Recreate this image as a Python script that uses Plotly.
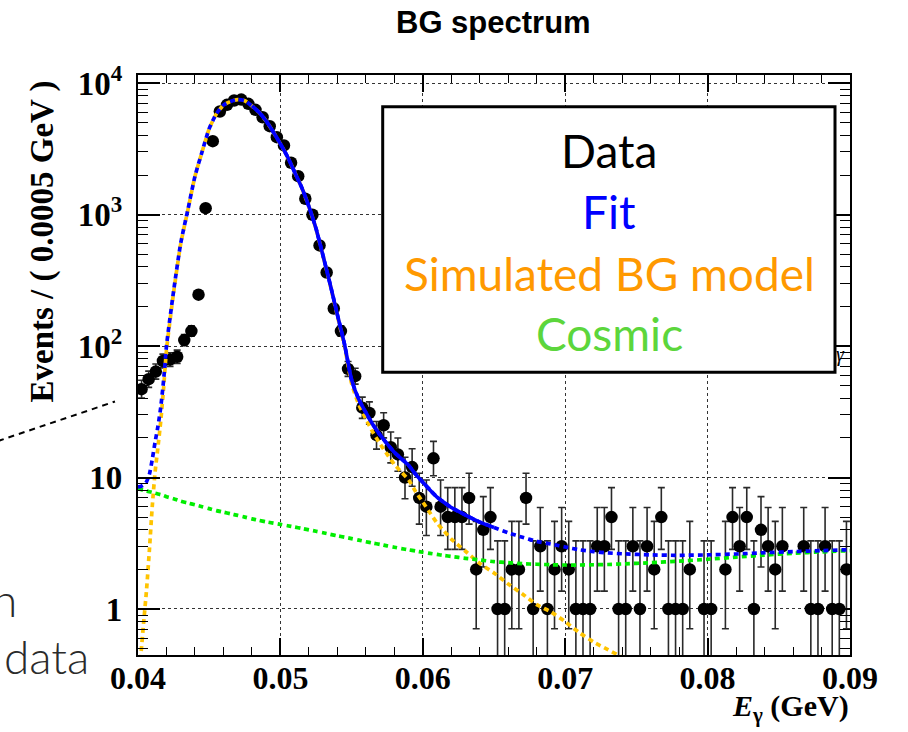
import math
import numpy as np
import plotly.graph_objects as go

# ---------------- data ----------------
# Histogram binning (GeV)
BIN_LO, BIN_HI, N_BINS = 0.04, 0.09, 100

# Events per 0.0005 GeV bin
counts = [
    47, 56, 64, 77, 79, 83, 111, 130, 246, 1120,
    3620, 6090, 6840, 7380, 7500, 6960, 6270, 5500, 4710, 3880,
    3360, 2480, 1960, 1320, 998, 583, 363, 193, 130, 67,
    59, 34, 31, 21, 25, 17, 15, 10, 12, 7,
    6, 14, 6, 5, 5, 5, 7, 2, 4, 5,
    1, 1, 2, 2, 7, 1, 3, 1, 2, 3,
    2, 1, 1, 1, 3, 3, 5, 1, 1, 3,
    1, 3, 2, 5, 1, 1, 1, 2, 0, 1,
    1, 0, 2, 5, 3, 5, 1, 4, 3, 2,
    3, 0, 0, 3, 1, 1, 3, 1, 1, 2,
]

# Model curves sampled in E_gamma (GeV)
curve_x = [
    0.0400, 0.0402, 0.0404, 0.0406, 0.0408, 0.0410, 0.0412, 0.0414, 0.0416, 0.0418,
    0.0420, 0.0425, 0.0430, 0.0435, 0.0440, 0.0445, 0.0450, 0.0455, 0.0460, 0.0465,
    0.0470, 0.0475, 0.0480, 0.0485, 0.0490, 0.0495, 0.0500, 0.0505, 0.0510, 0.0515,
    0.0520, 0.0525, 0.0530, 0.0535, 0.0540, 0.0545, 0.0550, 0.0555, 0.0560, 0.0565,
    0.0570, 0.0575, 0.0580, 0.0585, 0.0590, 0.0595, 0.0600, 0.0605, 0.0610, 0.0615,
    0.0620, 0.0630, 0.0640, 0.0650, 0.0660, 0.0670, 0.0680, 0.0690, 0.0700, 0.0710,
    0.0720, 0.0730, 0.0740, 0.0760, 0.0780, 0.0800, 0.0820, 0.0840, 0.0860, 0.0880,
    0.0900,
]

# Simulated background model
bg_model = [
    0.30, 0.45, 0.80, 1.4, 2.8, 6.0, 11.0, 17.0, 27.0, 48.0,
    93.0, 255.0, 600.0, 1080.0, 1950.0, 3000.0, 4500.0, 5830.0, 6800.0, 7250.0,
    7500.0, 7350.0, 6700.0, 6000.0, 5150.0, 4250.0, 3450.0, 2750.0, 2100.0, 1600.0,
    1150.0, 780.0, 480.0, 290.0, 170.0, 100.0, 52.0, 36.0, 28.0, 22.0,
    18.0, 15.0, 12.6, 11.0, 9.6, 7.8, 6.5, 5.4, 4.5, 3.9,
    3.4, 2.75, 2.22, 1.88, 1.55, 1.30, 1.08, 0.95, 0.80, 0.66,
    0.56, 0.49, 0.43, 0.33, 0.25, 0.19, 0.14, 0.11, 0.08, 0.06,
    0.045,
]

# Cosmic component
cosmic = [
    8.2, 8.1, 8.0, 7.9, 7.8, 7.7, 7.6, 7.5, 7.4, 7.3,
    7.15, 6.9, 6.6, 6.4, 6.2, 6.0, 5.8, 5.6, 5.45, 5.3,
    5.15, 5.0, 4.85, 4.72, 4.6, 4.5, 4.4, 4.3, 4.2, 4.1,
    4.0, 3.9, 3.8, 3.7, 3.6, 3.52, 3.43, 3.34, 3.25, 3.17,
    3.1, 3.02, 2.95, 2.88, 2.82, 2.76, 2.7, 2.65, 2.6, 2.55,
    2.51, 2.43, 2.36, 2.29, 2.25, 2.21, 2.19, 2.17, 2.16, 2.16,
    2.17, 2.18, 2.2, 2.25, 2.31, 2.39, 2.48, 2.57, 2.65, 2.72,
    2.78,
]

# Range used for the fit (drawn solid)
FIT_RANGE = (0.048, 0.065)

# Axis ticks
x_tickvals = [0.04, 0.05, 0.06, 0.07, 0.08, 0.09]
x_ticktext = ["0.04", "0.05", "0.06", "0.07", "0.08", "0.09"]
y_tickvals = [1, 10, 100, 1000, 10000]
y_ticktext = ["1", "10", "10<sup>2</sup>", "10<sup>3</sup>", "10<sup>4</sup>"]

legend_labels = ["Data", "Fit", "Simulated BG model", "Cosmic"]

# ---------------- derived quantities ----------------
counts_arr = np.array(counts, dtype=float)
bin_w = (BIN_HI - BIN_LO) / N_BINS
bin_centers = BIN_LO + (np.arange(N_BINS) + 0.5) * bin_w

N_MAX = int(max(counts)) + 2
LOG_FACT = np.concatenate([[0.0], np.cumsum(np.log(np.arange(1, N_MAX + 1)))])


def poisson_cdf(k, mu):
    i = np.arange(k + 1)
    logt = -mu + i * math.log(mu) - LOG_FACT[: k + 1]
    m = logt.max()
    return math.exp(m) * np.exp(logt - m).sum()


def solve_mu(k, target, lo, hi):
    # cdf(k; mu) decreases with mu
    for _ in range(80):
        mid = 0.5 * (lo + hi)
        if poisson_cdf(k, mid) > target:
            lo = mid
        else:
            hi = mid
    return 0.5 * (lo + hi)


def poisson_interval(n, cl=0.6827):
    if n == 0:
        return 0.0, -math.log(1.0 - cl)
    a = 0.5 * (1.0 - cl)
    span = 10.0 * math.sqrt(n) + 10.0
    lo = solve_mu(n - 1, 1.0 - a, max(1e-9, n - span), n)
    hi = solve_mu(n, a, n, n + span)
    return lo, hi


err_lo, err_hi = [], []
for n in counts:
    lo, hi = poisson_interval(int(n))
    err_lo.append(n - lo)
    err_hi.append(hi - n)

cx = np.array(curve_x)
bg = np.array(bg_model)
cos = np.array(cosmic)
fit = bg + cos
in_fit = (cx >= FIT_RANGE[0] - 1e-9) & (cx <= FIT_RANGE[1] + 1e-9)

# ---------------- figure ----------------
W, H = 908, 732
ML, MR, MT, MB = 138, 58, 75, 77
PW, PH = W - ML - MR, H - MT - MB


def px(xp):
    return (xp - ML) / PW


def py(yp):
    return (H - MB - yp) / PH


SERIF = "Liberation Serif, Times New Roman, serif"
SANS = "Liberation Sans, Arial, sans-serif"
LATO = "Lato, sans-serif"

fig = go.Figure()

# data points with Poisson error bars
fig.add_trace(go.Scatter(
    x=bin_centers, y=counts_arr, mode="markers",
    marker=dict(color="black", size=12.5),
    error_y=dict(type="data", symmetric=False, array=err_hi, arrayminus=err_lo,
                 color="#2a2a2a", thickness=1.6, width=3.5),
    showlegend=False, cliponaxis=True,
))

# background model
fig.add_trace(go.Scatter(
    x=cx, y=bg, mode="lines",
    line=dict(color="#ffc400", width=3.7, dash="5px,4px", shape="spline", smoothing=0.6),
    showlegend=False,
))

# cosmic component
fig.add_trace(go.Scatter(
    x=cx, y=cos, mode="lines",
    line=dict(color="#00ee00", width=3.7, dash="5px,4px", shape="spline", smoothing=0.6),
    showlegend=False,
))

# total fit: dashed over the full range, solid inside the fit range
fig.add_trace(go.Scatter(
    x=cx, y=fit, mode="lines",
    line=dict(color="#0000ff", width=3.7, dash="5px,4px", shape="spline", smoothing=0.6),
    showlegend=False,
))
fig.add_trace(go.Scatter(
    x=cx[in_fit], y=fit[in_fit], mode="lines",
    line=dict(color="#0000ff", width=3.6, shape="spline", smoothing=0.6),
    showlegend=False,
))

minor_y = [m * 10 ** d for d in range(-1, 5) for m in range(2, 10)]

fig.update_xaxes(
    range=[BIN_LO, BIN_HI],
    tickmode="array", tickvals=x_tickvals, ticktext=x_ticktext,
    ticks="inside", ticklen=17, tickwidth=1.5, tickcolor="black",
    minor=dict(dtick=0.002, ticks="inside", ticklen=8, tickwidth=1.2,
               tickcolor="black", showgrid=False),
    showline=True, linewidth=2.2, linecolor="black", mirror="allticks",
    showgrid=True, gridcolor="#333333", griddash="dot", gridwidth=1,
    tickfont=dict(family=SERIF, size=32, color="black", weight="bold"),
    ticklabelstandoff=-7, zeroline=False,
)
fig.update_yaxes(
    type="log", range=[-0.35, 4.062],
    tickmode="array", tickvals=y_tickvals, ticktext=y_ticktext,
    ticks="inside", ticklen=22, tickwidth=1.5, tickcolor="black",
    minor=dict(tickmode="array", tickvals=minor_y, ticks="inside", ticklen=10,
               tickwidth=1.2, tickcolor="black", showgrid=False),
    showline=True, linewidth=2.2, linecolor="black", mirror="allticks",
    showgrid=True, gridcolor="#333333", griddash="dot", gridwidth=1,
    tickfont=dict(family=SERIF, size=33, color="black", weight="bold"),
    ticklabelstandoff=7, zeroline=False,
)

shapes = [
    # legend frame
    dict(type="rect", xref="paper", yref="paper",
         x0=px(382.7), x1=px(835), y0=py(372.3), y1=py(106.7),
         line=dict(color="black", width=3), fillcolor="white", layer="above"),
    # pointer line at the left
    dict(type="line", xref="paper", yref="paper",
         x0=px(-2), y0=py(441), x1=px(115), y1=py(401.5),
         line=dict(color="black", width=2, dash="6px,5px"), layer="above"),
]

legend_colors = ["black", "#0000ff", "#ff9900", "#5cd63c"]
legend_centers = [150.5, 211.5, 273.5, 334.0]

annotations = [
    dict(text="<b>BG spectrum</b>", xref="paper", yref="paper",
         x=px(493.5), y=py(22.5), xanchor="center", yanchor="middle",
         showarrow=False, font=dict(family=SANS, size=31, color="black")),
    dict(text="<b>Events / ( 0.0005 GeV )</b>", xref="paper", yref="paper",
         x=px(42), y=py(241.5), xanchor="center", yanchor="middle", textangle=-90,
         showarrow=False, font=dict(family=SERIF, size=33, color="black")),
    dict(text="<b><i>E</i><sub>γ</sub> (GeV)</b>", xref="paper", yref="paper",
         x=px(851), y=py(708), xanchor="right", yanchor="middle",
         showarrow=False, font=dict(family=SERIF, size=30, color="black")),
    dict(text="<i>γ</i>", xref="paper", yref="paper",
         x=px(840), y=py(354), xanchor="center", yanchor="middle",
         showarrow=False, font=dict(family=SERIF, size=20, color="black")),
    dict(text="n", xref="paper", yref="paper",
         x=px(19), y=py(599), xanchor="right", yanchor="middle",
         showarrow=False, font=dict(family=LATO, size=46, color="#2b2b2b", weight=300)),
    dict(text="data", xref="paper", yref="paper",
         x=px(2), y=py(657), xanchor="left", yanchor="middle",
         showarrow=False, font=dict(family=LATO, size=46, color="#2b2b2b", weight=300)),
]
for label, color, yc in zip(legend_labels, legend_colors, legend_centers):
    annotations.append(dict(
        text=label, xref="paper", yref="paper", x=px(609), y=py(yc),
        xanchor="center", yanchor="middle", showarrow=False,
        font=dict(family=LATO, size=46, color=color)))

fig.update_layout(
    width=W, height=H,
    margin=dict(l=ML, r=MR, t=MT, b=MB, pad=0),
    paper_bgcolor="white", plot_bgcolor="white",
    showlegend=False,
    shapes=shapes, annotations=annotations,
)

fig.write_html("out.html")
